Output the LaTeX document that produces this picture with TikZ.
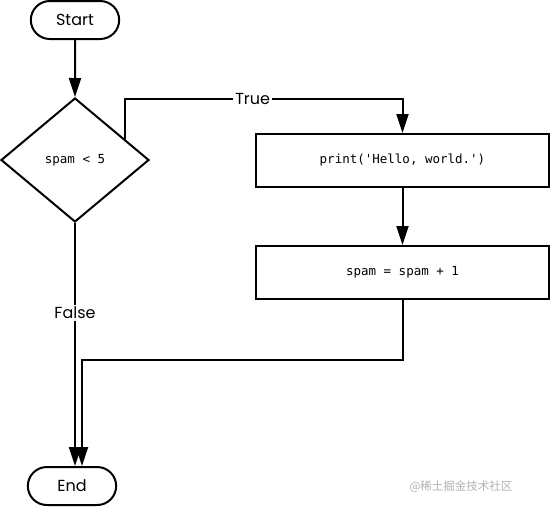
\documentclass[tikz,border=0pt]{standalone}
\usepackage{fontspec}
\setmainfont{Poppins}
\setmonofont{DejaVu Sans Mono}
\newfontfamily\cjkfont{Noto Sans CJK SC}
\usetikzlibrary{shapes.geometric,shapes.misc,arrows.meta,calc}

\tikzset{
    terminal/.style={
        draw,
        rounded rectangle,
        minimum width=95pt,
        minimum height=38pt,
        font=\fontsize{16}{18}\selectfont
    },
    decision/.style={
        draw,
        diamond,
        inner sep=0pt,
        minimum width=148pt,
        minimum height=124pt,
        font=\ttfamily\fontsize{12.5}{14}\selectfont
    },
    process/.style={
        draw,
        rectangle,
        minimum width=293pt,
        minimum height=53pt,
        font=\ttfamily\fontsize{12.5}{14}\selectfont
    },
    flowlabel/.style={
        fill=white,
        inner sep=2pt,
        font=\fontsize{16}{18}\selectfont
    },
    arr/.style={-{Triangle[length=19pt,width=12pt]}}
}

\begin{document}
\begin{tikzpicture}[x=1pt,y=-1pt,line width=2pt]
            \fill[white] (0,0) rectangle (551,507);
            \useasboundingbox (0,0) rectangle (551,507);

            \node[terminal, name=start] at (75,20) {Start};
            \node[decision, name=check] at (75,160) {spam < 5};
            \node[process, name=hello] at (402.5,160.5) {print('Hello, world.')};
            \node[process, name=incr] at (402.5,272.5) {spam = spam + 1};
            \node[terminal, name=stop] at (72,486) {End};

            \coordinate (tstart) at ($(check.north)!0.667!(check.east)$);
            \coordinate (loopend) at ([xshift=10pt]stop.north);

            \draw[arr] (start) -- (check);
            \draw[arr] (tstart) -- ++(0,-40.5)
                -| node[flowlabel, pos=0.23] {True} (hello.north);
            \draw[arr] (hello) -- (incr);
            \draw[arr] (check.south) -- node[flowlabel, pos=0.37] {False} (check.south |- stop.north);
            \draw[arr] (incr.south) -- ++(0,60) -| (loopend);

            \node[text=black!30, font=\cjkfont\fontsize{11.5}{13}\selectfont, name=mark] at (461,487) {@稀土掘金技术社区};
\end{tikzpicture}
\end{document}
